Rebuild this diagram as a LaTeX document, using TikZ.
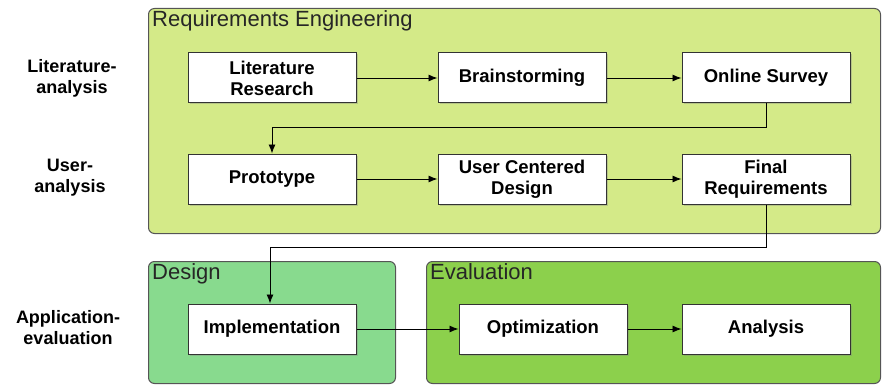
\documentclass[tikz,border=0pt]{standalone}
\usepackage{fontspec}
\setmainfont{Liberation Sans}
\usetikzlibrary{arrows.meta,shadows}
\definecolor{reqfill}{HTML}{D4EA88}
\definecolor{desfill}{HTML}{88DA8E}
\definecolor{evafill}{HTML}{8CD04C}
\definecolor{edgegray}{HTML}{555555}
\begin{document}
\begin{tikzpicture}[x=1pt,y=-1pt,
  panel/.style={draw=edgegray,line width=1pt,rounded corners=6pt},
  paneltitle/.style={anchor=north west,inner sep=0pt,font=\fontsize{22}{24}\selectfont,text=black!85},
  stepbox/.style={draw=black!80,fill=white,line width=1pt,minimum width=168pt,minimum height=50pt,
    align=center,font=\fontsize{18.5}{21}\selectfont\bfseries,
    drop shadow={shadow xshift=1.5pt,shadow yshift=-1.5pt,opacity=0.35}},
  rowlabel/.style={align=center,font=\fontsize{18}{21}\selectfont\bfseries},
  flow/.style={draw=black,line width=0.9pt,-{Latex[length=9pt,width=7pt]}}]
\useasboundingbox (0,0) rectangle (882,385);
% group panels
\node[panel,fill=reqfill,minimum width=732pt,minimum height=225pt,anchor=north west] (req) at (148,8) {};
\node[panel,fill=desfill,minimum width=247pt,minimum height=122pt,anchor=north west] (des) at (148,261) {};
\node[panel,fill=evafill,minimum width=454pt,minimum height=122pt,anchor=north west] (eva) at (426,261) {};
\node[paneltitle] (reqt) at (152,10) {Requirements Engineering};
\node[paneltitle] (dest) at (152,263) {Design};
\node[paneltitle] (evat) at (430,263) {Evaluation};
% row labels
\node[rowlabel] (la) at (72,78) {Literature-\\analysis};
\node[rowlabel] (ua) at (70,178) {User-\\analysis};
\node[rowlabel] (ae) at (68,328) {Application-\\evaluation};
% process steps
\node[stepbox] (lit) at (272,78) {Literature\\Research};
\node[stepbox] (brain) at (522,78) {Brainstorming};
\node[stepbox] (survey) at (766,78) {Online Survey};
\node[stepbox] (proto) at (272,179) {Prototype};
\node[stepbox] (ucd) at (522,179) {User Centered\\Design};
\node[stepbox] (final) at (766,179) {Final\\Requirements};
\node[stepbox] (impl) at (272,329) {Implementation};
\node[stepbox] (opt) at (543,329) {Optimization};
\node[stepbox] (ana) at (766,329) {Analysis};
% connectors
\coordinate (b1) at (766,127);
\coordinate (b2) at (270,247);
\draw[flow] (lit) -- (brain);
\draw[flow] (brain) -- (survey);
\draw[flow] (survey.south) -- (b1) -| (proto.north);
\draw[flow] (proto) -- (ucd);
\draw[flow] (ucd) -- (final);
\draw[flow] (final.south) |- (b2) -- (b2 |- impl.north);
\draw[flow] (impl) -- (opt);
\draw[flow] (opt) -- (ana);
\end{tikzpicture}
\end{document}
